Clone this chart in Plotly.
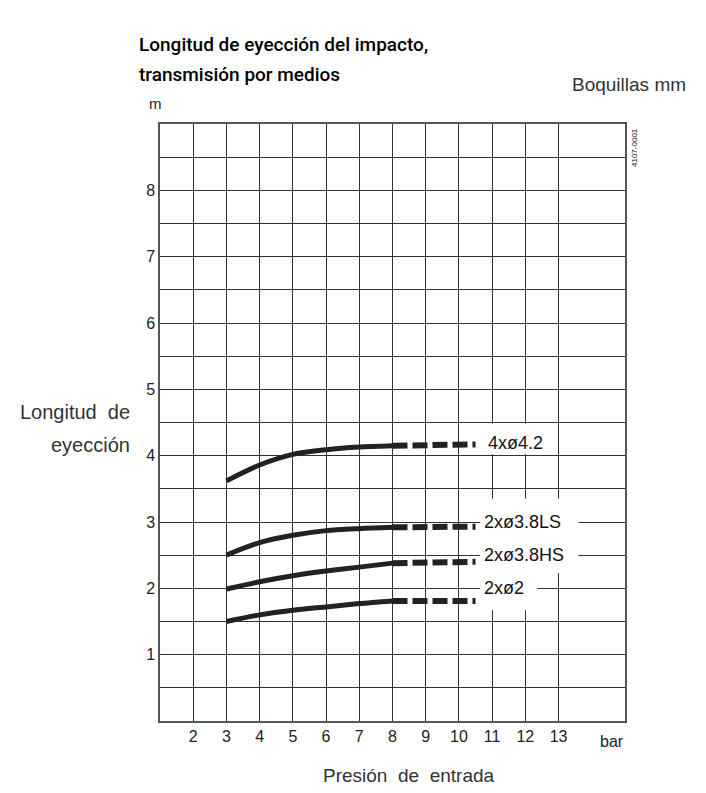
import plotly.graph_objects as go

# Inlet pressure (bar) for the measured part and the extrapolated part
pressure_measured = [3, 4, 5, 6, 7, 8]
pressure_extrapolated = [8, 10.5]

# Throw length (m) per nozzle set
nozzles = ["4xø4.2", "2xø3.8LS", "2xø3.8HS", "2xø2"]
throw_measured = {
    "4xø4.2": [3.62, 3.86, 4.02, 4.09, 4.13, 4.15],
    "2xø3.8LS": [2.50, 2.69, 2.80, 2.87, 2.90, 2.92],
    "2xø3.8HS": [1.99, 2.10, 2.19, 2.26, 2.32, 2.38],
    "2xø2": [1.50, 1.60, 1.67, 1.72, 1.77, 1.81],
}
throw_extrapolated = {
    "4xø4.2": [4.15, 4.17],
    "2xø3.8LS": [2.92, 2.93],
    "2xø3.8HS": [2.38, 2.40],
    "2xø2": [1.81, 1.81],
}
label_pos = {
    "4xø4.2": (10.82, 4.19),
    "2xø3.8LS": (10.70, 3.0),
    "2xø3.8HS": (10.70, 2.5),
    "2xø2": (10.70, 2.0),
}

x_ticks = list(range(2, 14))
y_grid = [v / 2 for v in range(1, 18)]
y_text = [str(int(v)) if v == int(v) else "" for v in y_grid]

FONT = "Liberation Sans, Arial, Helvetica, sans-serif"
TITLE_FONT = "Roboto, Liberation Sans, Arial, sans-serif"
INK = "#222222"
GRID = "#333333"
SP = "\u00a0\u00a0"

fig = go.Figure()
for name in nozzles:
    fig.add_trace(go.Scatter(
        x=pressure_measured, y=throw_measured[name], mode="lines",
        line=dict(color=INK, width=5, shape="spline", smoothing=0.8),
        showlegend=False, hoverinfo="skip"))
    fig.add_trace(go.Scatter(
        x=pressure_extrapolated, y=throw_extrapolated[name], mode="lines",
        line=dict(color=INK, width=6, dash="15px,5px"), showlegend=False,
        hoverinfo="skip"))

# White panels behind the nozzle labels
for x0, x1, y0, y1 in [(10.64, 12.45, 4.02, 4.48),
                       (10.64, 13.6, 2.23, 3.35),
                       (10.64, 12.36, 1.67, 2.23)]:
    fig.add_shape(type="rect", xref="x", yref="y", x0=x0, x1=x1, y0=y0, y1=y1,
                  fillcolor="white", line=dict(width=0), layer="between")

for name in nozzles:
    lx, ly = label_pos[name]
    fig.add_annotation(x=lx, y=ly, xref="x", yref="y", text=name,
                       showarrow=False, xanchor="left", yanchor="middle",
                       font=dict(family=FONT, size=18, color="#111111"))

# (text, x, y, anchor, size, colour, family, weight)
paper_text = [
    ("Longitud de eyección del impacto,", -0.049, 1.133, "left", 19, "#000000", TITLE_FONT, 500),
    ("transmisión por medios", -0.049, 1.083, "left", 19, "#000000", TITLE_FONT, 500),
    ("Boquillas mm", 1.135, 1.066, "right", 19, "#333333", FONT, 400),
    ("m", -0.01, 1.034, "center", 15, "#222222", FONT, 400),
    ("Longitud" + SP + "de", -0.06, 0.518, "right", 20, "#333333", FONT, 400),
    ("eyección", -0.06, 0.462, "right", 20, "#333333", FONT, 400),
    ("Presión" + SP + "de" + SP + "entrada", 0.535, -0.092, "center", 19, "#333333", FONT, 400),
]
for txt, px, py, anchor, size, color, fam, wt in paper_text:
    fig.add_annotation(x=px, y=py, xref="paper", yref="paper", text=txt,
                       showarrow=False, xanchor=anchor, yanchor="middle",
                       font=dict(family=fam, size=size, color=color, weight=wt))

fig.add_annotation(x=14.6, y=-0.034, xref="x", yref="paper", text="bar",
                   showarrow=False, xanchor="center", yanchor="middle",
                   font=dict(family=FONT, size=16, color="#222222"))
fig.add_annotation(x=1.0215, y=0.9615, xref="paper", yref="paper",
                   text="4107-0001", textangle=-90, showarrow=False,
                   xanchor="center", yanchor="middle",
                   font=dict(family=FONT, size=8, color="#222222"))

fig.update_xaxes(range=[1, 15], tickvals=x_ticks, ticktext=[str(t) for t in x_ticks],
                 showgrid=True, gridcolor=GRID, gridwidth=1, zeroline=False,
                 showline=True, linecolor="#555555", linewidth=1.5, mirror=True,
                 ticks="", tickfont=dict(family=FONT, size=16, color="#222222"))
fig.update_yaxes(range=[0, 9], tickvals=y_grid, ticktext=y_text,
                 showgrid=True, gridcolor=GRID, gridwidth=1, zeroline=False,
                 showline=True, linecolor="#555555", linewidth=1.5, mirror=True,
                 ticks="", tickfont=dict(family=FONT, size=16, color="#222222"))

fig.update_layout(width=706, height=793,
                  margin=dict(l=160, r=81, t=124, b=72),
                  paper_bgcolor="white", plot_bgcolor="white",
                  showlegend=False)

fig.write_html("out.html")
